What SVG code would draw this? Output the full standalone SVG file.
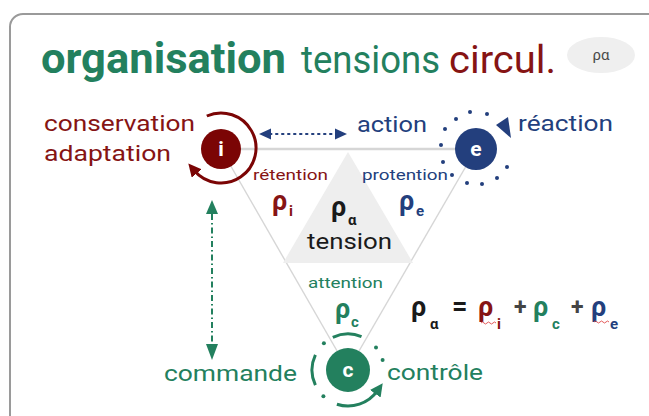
<svg xmlns="http://www.w3.org/2000/svg" width="649" height="416" viewBox="0 0 649 416">
<style>
text{font-family:Roboto,"Noto Sans","Liberation Sans",sans-serif}
.g{fill:#23805e}.r{fill:#861414}.b{fill:#233f7d}.k{fill:#1a1a1a}
.lbl{font-size:22px}
.sm{font-size:15px}
.rho{font-size:27px;font-weight:bold}
.sub{font-size:15px;font-weight:bold}
.tri{stroke:#d6d6d6;fill:none}
.dot{stroke-linecap:round}
</style>
<defs>
<marker id="arR" viewBox="0 0 10 10" refX="3" refY="5" markerWidth="13" markerHeight="13" markerUnits="userSpaceOnUse" orient="auto">
<path d="M0,0 L10,5 L0,10 z" fill="#7b0505"/>
</marker>
<marker id="arG" viewBox="0 0 10 10" refX="3" refY="5" markerWidth="13" markerHeight="13" markerUnits="userSpaceOnUse" orient="auto">
<path d="M0,0 L10,5 L0,10 z" fill="#23805e"/>
</marker>
</defs>

<rect x="10" y="14" width="660" height="440" rx="13" fill="#fff" stroke="#9a9a9a" stroke-width="2"/>

<g id="title">
<text x="41" y="73" font-size="42" font-weight="bold" class="g" textLength="245" lengthAdjust="spacingAndGlyphs">organisation</text>
<text x="301" y="73" font-size="38" class="g" textLength="139" lengthAdjust="spacingAndGlyphs">tensions</text>
<text x="449" y="73" font-size="38" class="r" textLength="107" lengthAdjust="spacingAndGlyphs">circul.</text>
<ellipse cx="601" cy="55" rx="34" ry="18" fill="#efefef"/>
<text x="601" y="60" font-size="15" fill="#4a4a4a" text-anchor="middle">ρα</text>
</g>

<g id="connectors">
<line class="tri" x1="221" y1="149" x2="476" y2="149" stroke-width="2.5"/>
<line class="tri" x1="221" y1="149" x2="348" y2="370" stroke-width="1.4"/>
<line class="tri" x1="476" y1="149" x2="348" y2="370" stroke-width="1.4"/>
<polygon points="348,152 283,263 413,263" fill="#eeeeee"/>
<line x1="270" y1="134" x2="334" y2="134" stroke="#233f7d" stroke-width="2" stroke-dasharray="1.5 4.5" class="dot"/>
<polygon points="259,134 271,128.5 271,139.5" fill="#233f7d"/>
<polygon points="347,134 335,128.5 335,139.5" fill="#233f7d"/>
<line x1="212" y1="214" x2="212" y2="344" stroke="#23805e" stroke-width="2" stroke-dasharray="6 3 1.5 3"/>
<polygon points="212,200 206,214 218,214" fill="#23805e"/>
<polygon points="212,360 206,344 218,344" fill="#23805e"/>
</g>

<g id="node-i">
<circle cx="221" cy="149" r="20" fill="#7b0505"/>
<text x="221" y="156" font-size="21" font-weight="bold" fill="#fff" text-anchor="middle">i</text>
<path d="M206.8,116 A35,35 0 1 1 194.2,170.5" fill="none" stroke="#7b0505" stroke-width="3" marker-end="url(#arR)"/>
<text x="44" y="131" class="lbl r" textLength="151" lengthAdjust="spacingAndGlyphs">conservation</text>
<text x="44" y="161" class="lbl r" textLength="127" lengthAdjust="spacingAndGlyphs">adaptation</text>
<text x="253" y="180" class="sm r" textLength="75" lengthAdjust="spacingAndGlyphs">rétention</text>
<text x="272" y="210" class="rho r">ρ</text><text x="289" y="216" class="sub r">i</text>
</g>

<g id="node-e">
<circle cx="476" cy="149" r="21" fill="#233f7d"/>
<text x="476" y="156" font-size="21" font-weight="bold" fill="#fff" text-anchor="middle">e</text>
<g fill="#233f7d">
<circle cx="470" cy="112" r="2"/><circle cx="487" cy="114" r="2"/><circle cx="456" cy="119" r="2"/>
<circle cx="445" cy="129" r="2"/><circle cx="441" cy="145" r="2"/><circle cx="443" cy="162" r="2"/>
<circle cx="452" cy="175" r="2"/><circle cx="467" cy="183" r="2"/><circle cx="482" cy="184" r="2"/>
<circle cx="497" cy="178" r="2"/><circle cx="507" cy="167" r="2"/>
<polygon points="496,125 508,117 511,138"/>
</g>
<text x="357" y="132" class="lbl b" textLength="70" lengthAdjust="spacingAndGlyphs">action</text>
<text x="518" y="131" class="lbl b" textLength="95" lengthAdjust="spacingAndGlyphs">réaction</text>
<text x="362" y="180" class="sm b" textLength="86" lengthAdjust="spacingAndGlyphs">protention</text>
<text x="399" y="210" class="rho b">ρ</text><text x="416" y="216" class="sub b">e</text>
</g>

<g id="node-c">
<circle cx="348" cy="370" r="22" fill="#23805e"/>
<text x="348" y="377" font-size="21" font-weight="bold" fill="#fff" text-anchor="middle">c</text>
<g fill="none" stroke="#23805e" stroke-width="3">
<path d="M315.4,385.2 A36,36 0 0 1 315.4,354.8"/>
<path d="M332.8,337.4 A36,36 0 0 1 361.5,336.6"/>
<path d="M336.9,404.2 A36,36 0 0 0 377.5,390.6" marker-end="url(#arG)"/>
</g>
<g fill="#23805e">
<circle cx="323.9" cy="343.2" r="2"/><circle cx="376" cy="347.4" r="2"/>
<circle cx="382.6" cy="360.1" r="2"/><circle cx="323.4" cy="396.3" r="2"/>
</g>
<text x="164" y="381" class="lbl g" textLength="133" lengthAdjust="spacingAndGlyphs">commande</text>
<text x="387" y="380" class="lbl g" textLength="96" lengthAdjust="spacingAndGlyphs">contrôle</text>
<text x="308" y="288" class="sm g" textLength="75" lengthAdjust="spacingAndGlyphs">attention</text>
<text x="335" y="318" class="rho g">ρ</text><text x="351" y="327" class="sub g">c</text>
</g>

<g id="tension">
<text x="331" y="216" class="rho k">ρ</text><text x="348" y="225" class="sub k" font-size="14">α</text>
<text x="307" y="249" font-size="22" class="k" textLength="85" lengthAdjust="spacingAndGlyphs">tension</text>
</g>

<g id="formula">
<text x="411" y="316" class="rho k" font-size="30">ρ</text><text x="430" y="329" class="sub k" font-size="17">α</text>
<text x="452" y="315" font-size="27" font-weight="bold" class="k">=</text>
<text x="478" y="316" class="rho r" font-size="30">ρ</text><text x="497" y="329" class="sub r" font-size="17">i</text>
<text x="514" y="315" font-size="23" font-weight="bold" fill="#444">+</text>
<text x="533" y="316" class="rho g" font-size="30">ρ</text><text x="552" y="329" class="sub g" font-size="17">c</text>
<text x="571" y="315" font-size="23" font-weight="bold" fill="#444">+</text>
<text x="591" y="316" class="rho b" font-size="30">ρ</text><text x="610" y="329" class="sub b" font-size="17">e</text>
<g fill="none" stroke="#e04848" stroke-width="0.9">
<path d="M481,323 q1.5,-2 3,0 t3,0 t3,0 t3,0 t3,0"/>
<path d="M594,322 q1.5,-2 3,0 t3,0 t3,0 t3,0 t3,0"/>
</g>
</g>
</svg>
